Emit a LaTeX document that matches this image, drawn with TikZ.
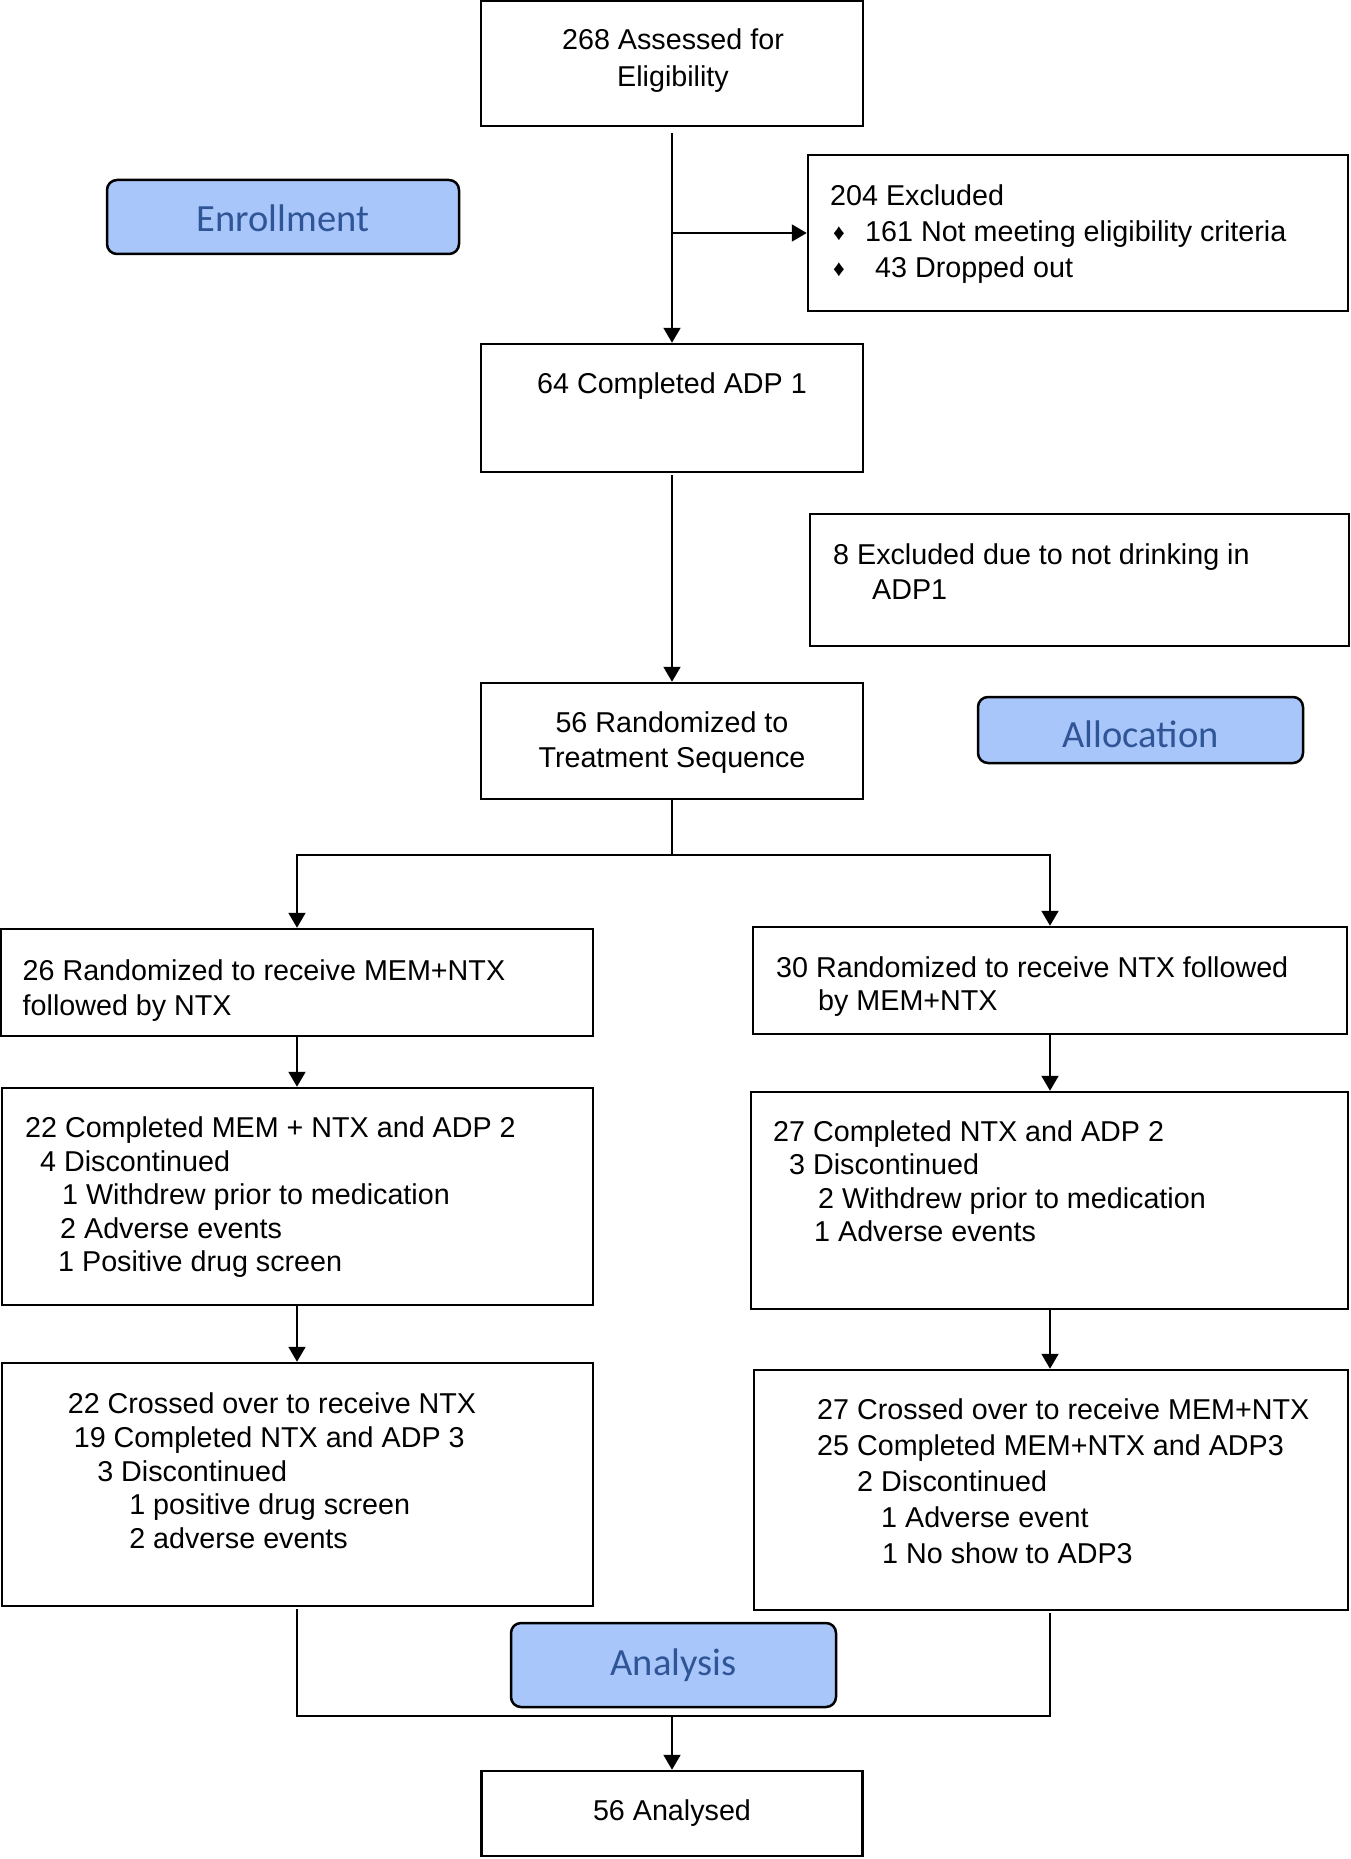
\documentclass[tikz,border=0pt]{standalone}
\usepackage{fontspec}
\setmainfont{Liberation Sans}
\newfontfamily\carlito{Carlito}
\usetikzlibrary{arrows.meta}

\definecolor{phasefill}{HTML}{A8C6FA}
\definecolor{phasetext}{HTML}{2F5597}

\newcommand{\bul}{{\fontsize{23}{23}\selectfont\raisebox{1pt}{♦}}}

\tikzset{
  box/.style={draw, line width=2.5pt, inner sep=0pt},
  phase/.style={draw, line width=2.5pt, rounded corners=10pt, fill=phasefill,
    text=phasetext, font=\carlito\fontsize{38.5}{40}\selectfont},
  txt/.style={inner sep=0pt, align=left, anchor=north west,
    font=\fontsize{28.7}{#1}\selectfont},
  txt/.default=35,
  link/.style={line width=2pt},
  arr/.style={line width=2pt, -{Triangle[length=15pt,width=17pt]}}
}

\begin{document}
\begin{tikzpicture}[x=1pt,y=-1pt]
    \useasboundingbox (0,0) rectangle (1350,1859);

    % Phase labels
    \node[phase, minimum width=352pt, minimum height=74pt, text height=30pt] (enrol) at (283,217) {Enrollment};
    \node[phase, minimum width=325pt, minimum height=66pt, text height=36pt] (alloc) at (1140.5,730) {Allocation};
    \node[phase, minimum width=325pt, minimum height=84pt] (analysis) at (673.5,1665) {Analysis};

    % Enrollment
    \node[box, minimum width=382pt, minimum height=125pt] (assess) at (672,63.5) {};
    \node[txt=36.8, anchor=north, align=center] (assessT) at (673,28.5) {268 Assessed for\\Eligibility};

    \node[box, minimum width=540pt, minimum height=156pt] (excl) at (1078,233) {};
    \node[txt=35.6] (exclT) at (830,185) {204 Excluded\\
      \hspace*{3pt}\makebox[32pt][l]{\bul}161 Not meeting eligibility criteria\\
      \hspace*{3pt}\makebox[42pt][l]{\bul}43 Dropped out};

    \node[box, minimum width=382pt, minimum height=128pt] (adp1) at (672,408) {};
    \node[txt, anchor=north, align=center] (adp1T) at (672,372.5) {64 Completed ADP 1};

    \node[box, minimum width=539pt, minimum height=132pt] (excl2) at (1079.5,580) {};
    \node[txt=35.5] (excl2T) at (833,543) {8 Excluded due to not drinking in\\ \hspace*{39pt}ADP1};

    % Allocation
    \node[box, minimum width=382pt, minimum height=116pt] (rand) at (672,741) {};
    \node[txt, anchor=north, align=center] (randT) at (672,711.5) {56 Randomized to\\Treatment Sequence};

    \node[box, minimum width=592pt, minimum height=107pt] (armA) at (297,982.5) {};
    \node[txt=35.4] (armAT) at (22.5,959) {26 Randomized to receive MEM+NTX\\followed by NTX};

    \node[box, minimum width=594pt, minimum height=107pt] (armB) at (1050,980.5) {};
    \node[txt=33] (armBT) at (776,956.5) {30 Randomized to receive NTX followed\\ \hspace*{42pt}by MEM+NTX};

    \node[box, minimum width=591pt, minimum height=217pt] (cmpA) at (297.5,1196.5) {};
    \node[txt=33.5] (cmpAT) at (25,1116.5) {22 Completed MEM + NTX and ADP 2\\
      \hspace*{15pt}4 Discontinued\\
      \hspace*{37pt}1 Withdrew prior to medication\\
      \hspace*{35pt}2 Adverse events\\
      \hspace*{33pt}1 Positive drug screen};

    \node[box, minimum width=597pt, minimum height=217pt] (cmpB) at (1049.5,1200.5) {};
    \node[txt=33.3] (cmpBT) at (773,1120.5) {27 Completed NTX and ADP 2\\
      \hspace*{16pt}3 Discontinued\\
      \hspace*{45pt}2 Withdrew prior to medication\\
      \hspace*{41pt}1 Adverse events};

    \node[box, minimum width=591pt, minimum height=243pt] (crsA) at (297.5,1484.5) {};
    \node[txt=33.75] (crsAT) at (67.6,1392.5) {22 Crossed over to receive NTX\\
      \hspace*{6pt}19 Completed NTX and ADP 3\\
      \hspace*{29.5pt}3 Discontinued\\
      \hspace*{61.5pt}1 positive drug screen\\
      \hspace*{61.5pt}2 adverse events};

    \node[box, minimum width=594pt, minimum height=240pt] (crsB) at (1051,1490) {};
    \node[txt=36] (crsBT) at (817,1398.5) {27 Crossed over to receive MEM+NTX\\
      25 Completed MEM+NTX and ADP3\\
      \hspace*{40pt}2 Discontinued\\
      \hspace*{64pt}1 Adverse event\\
      \hspace*{65pt}1 No show to ADP3};

    % Analysis
    \node[box, minimum width=381pt, minimum height=85pt] (anl) at (672,1813.5) {};
    \node[txt, anchor=north, align=center] (anlT) at (672,1799.5) {56 Analysed};

    % Connectors
    \draw[arr] ([yshift=-6pt]assess.south) -- (adp1.north);
    \draw[arr] (assess.south |- excl.west) -- (excl.west);
    \draw[arr] ([yshift=-2pt]adp1.south) -- (rand.north);
    \coordinate (split) at (672,855);
    \draw[link] (rand.south) -- (split);
    \draw[arr] (split) -| (armA.north);
    \draw[arr] (split) -| (armB.north);
    \draw[arr] (armA.south) -- (armA.south |- cmpA.north);
    \draw[arr] (armB.south) -- (armB.south |- cmpB.north);
    \draw[arr] (cmpA.south -| armA.south) -- (armA.south |- crsA.north);
    \draw[arr] (cmpB.south -| armB.south) -- (armB.south |- crsB.north);
    \coordinate (join) at (672,1716);
    \draw[link] ([yshift=-2pt]crsA.south -| armA.south) |- (join) -| ([yshift=-2pt]crsB.south -| armB.south);
    \draw[arr] (join) -- (anl.north);
\end{tikzpicture}
\end{document}
